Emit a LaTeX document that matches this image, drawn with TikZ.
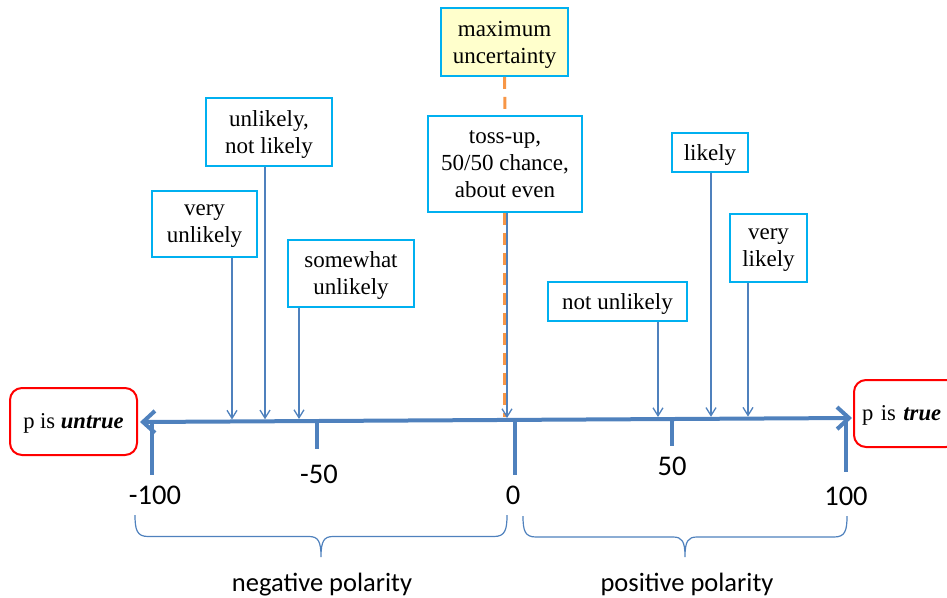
\documentclass[tikz,border=0pt]{standalone}
\usepackage{fontspec}
\setmainfont{Liberation Serif}
\newfontfamily\labelfont{Carlito}
\usetikzlibrary{arrows.meta}
\definecolor{axisblue}{HTML}{4F81BD}
\definecolor{boxcyan}{HTML}{00B0F0}
\definecolor{polered}{HTML}{FF0000}
\definecolor{dashorange}{HTML}{F79646}
\definecolor{paleyellow}{HTML}{FFFFCC}

\begin{document}
\begin{tikzpicture}[x=1pt,y=-1pt,
  term/.style={draw=boxcyan, line width=1.6pt, fill=white, inner sep=0pt,
    align=center, text depth=0pt, font=\fontsize{23}{27}\selectfont},
  pole/.style={draw=polered, line width=2pt, rounded corners=12pt, inner sep=0pt,
    minimum height=67pt, text depth=0pt, font=\fontsize{22.6}{26}\selectfont},
  axisline/.style={draw=axisblue, line width=4pt,
    {Straight Barb[length=12pt,width=22pt]}-{Straight Barb[length=12pt,width=22pt]}},
  tickmark/.style={draw=axisblue, line width=3.5pt},
  pointer/.style={draw=axisblue, line width=1.3pt, -{Straight Barb[length=8pt,width=10pt]}},
  bracket/.style={draw=axisblue, line width=1.2pt},
  scalelabel/.style={font=\labelfont\fontsize{28.5}{30}\selectfont, inner sep=0pt, anchor=base},
  polarity/.style={font=\labelfont\fontsize{26.5}{30}\selectfont, inner sep=0pt, anchor=base},
  midline/.style={draw=dashorange, line width=3pt, dash pattern=on 12pt off 8pt}
]
\useasboundingbox (0,0) rectangle (947,597);

% end points of the scale
\node[pole, minimum width=127pt, align=center] (untrue) at (73.5,421.5)
  {p is \textbf{\textit{untrue}}};
\node[pole, anchor=west, text width=88pt, inner xsep=8pt, align=left] (true) at (853,413.5)
  {p is \textbf{\textit{true}}};

% the scale line (slightly tilted) and its ticks
\coordinate (L) at (140,422);
\coordinate (R) at (852,418);
\draw[axisline] (L) -- (R);

\coordinate (a-100) at (152,421.9);
\coordinate (a-50)  at (317,421.0);
\coordinate (a0)    at (515,419.9);
\coordinate (a50)   at (672,419.0);
\coordinate (a100)  at (846,418.0);
\coordinate (b-100) at (152,475);
\coordinate (b-50)  at (317,449);
\coordinate (b0)    at (515,475);
\coordinate (b50)   at (672,446);
\coordinate (b100)  at (846,472);
\foreach \t in {-100,-50,0,50,100} \draw[tickmark] (a\t) -- (b\t);

\node[scalelabel] (n-100) at (155,504) {-100};
\node[scalelabel] (n-50)  at (319,483) {-50};
\node[scalelabel] (n0)    at (513,504) {0};
\node[scalelabel] (n50)   at (672,475) {50};
\node[scalelabel] (n100)  at (846,505) {100};

% verbal expressions of probability
\node[term, fill=paleyellow, minimum width=127pt, minimum height=68pt] (maxu) at (504.5,42)
  {maximum\\uncertainty};
\node[term, minimum width=154pt, minimum height=96pt] (toss) at (505,164)
  {toss-up,\\50/50 chance,\\about even};
\node[term, minimum width=126pt, minimum height=68pt] (unl) at (269,132)
  {unlikely,\\not likely};
\node[term, minimum width=105pt, minimum height=66pt] (vunl) at (204.5,224)
  {very\\unlikely};
\node[term, minimum width=126pt, minimum height=67pt] (sunl) at (351,273.5)
  {somewhat\\unlikely};
\node[term, minimum width=76pt, minimum height=39pt] (lik) at (710,152.5)
  {likely};
\node[term, minimum width=77pt, minimum height=68pt] (vlik) at (768.5,248)
  {very\\likely};
\node[term, minimum width=139pt, minimum height=39pt] (nunl) at (617.5,301.5)
  {not unlikely};

% points on the scale
\coordinate (pvunl) at (232,419.5);
\coordinate (punl)  at (265,419.3);
\coordinate (psunl) at (299,419.0);
\coordinate (ptoss) at (507,418.0);
\coordinate (pmid)  at (504.5,417);
\coordinate (pnunl) at (658,417.0);
\coordinate (plik)  at (711,416.8);
\coordinate (pvlik) at (748,416.6);

\draw[midline] (maxu.south) -- (toss.north);
\draw[midline] (toss.south -| pmid) -- (pmid);

\draw[pointer] (vunl.south -| pvunl) -- (pvunl);
\draw[pointer] (unl.south -| punl) -- (punl);
\draw[pointer] (sunl.south -| psunl) -- (psunl);
\draw[pointer] (toss.south -| ptoss) -- (ptoss);
\draw[pointer] (nunl.south -| pnunl) -- (pnunl);
\draw[pointer] (lik.south -| plik) -- (plik);
\draw[pointer] (vlik.south -| pvlik) -- (pvlik);

% polarity brackets
\draw[bracket] (135,515) .. controls (135,530) and (137,536.5) .. (148,536.5)
  -- (309,536.5) .. controls (318,536.5) and (321,541) .. (321,557)
  .. controls (321,541) and (324,536.5) .. (333,536.5)
  -- (494,536.5) .. controls (505,536.5) and (507,530) .. (507,515);
\draw[bracket] (523,516) .. controls (523,531) and (525,537) .. (536,537)
  -- (673,537) .. controls (682,537) and (685,541) .. (685,557)
  .. controls (685,541) and (688,537) .. (697,537)
  -- (834,537) .. controls (845,537) and (847,531) .. (847,516);

\node[polarity] (neg) at (322,591) {negative polarity};
\node[polarity] (pos) at (687,591) {positive polarity};
\end{tikzpicture}
\end{document}
